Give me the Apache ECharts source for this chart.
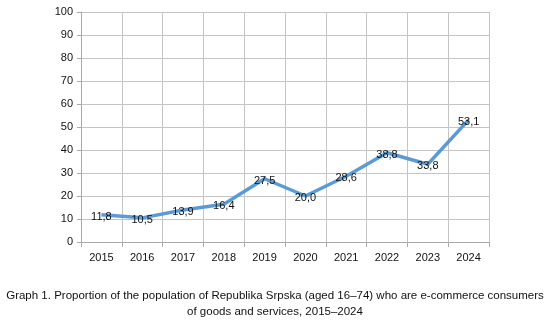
<!DOCTYPE html>
<html>
<head>
<meta charset="utf-8">
<script src="https://cdn.jsdelivr.net/npm/echarts@6/dist/echarts.min.js"></script>
<style>
  html, body { margin: 0; padding: 0; background: #fff; }
  #chart { width: 550px; height: 327px; }
</style>
</head>
<body>
<div id="chart"></div>
<script>
// Share of e-commerce consumers, Republika Srpska, by year
const years = ['2015', '2016', '2017', '2018', '2019', '2020', '2021', '2022', '2023', '2024'];
const shares = [11.8, 10.5, 13.9, 16.4, 27.5, 20.0, 28.6, 38.8, 33.8, 53.1];
const yTicks = { min: 0, max: 100, interval: 10 };
const caption = 'Graph 1. Proportion of the population of Republika Srpska (aged 16–74) who are e-commerce consumers\nof goods and services, 2015–2024';

const font = 'Liberation Sans, Arial, sans-serif';
const chart = echarts.init(document.getElementById('chart'), null, { renderer: 'canvas' });

chart.setOption({
  animation: false,
  backgroundColor: '#ffffff',
  graphic: [{
    type: 'text',
    x: 275,
    y: 288,
    style: {
      text: caption,
      align: 'center',
      verticalAlign: 'top',
      fontFamily: font,
      fontSize: 11.5,
      lineHeight: 16,
      fill: '#111'
    }
  }],
  grid: { left: 81, right: 61, top: 12, bottom: 85 },
  xAxis: {
    type: 'category',
    data: years,
    boundaryGap: true,
    axisLine: { show: true, lineStyle: { color: '#aaaaaa', width: 1 } },
    axisTick: { show: true, alignWithLabel: false, length: 5, lineStyle: { color: '#aaaaaa' } },
    axisLabel: { fontFamily: font, fontSize: 11, color: '#111', margin: 10 },
    splitLine: { show: true, lineStyle: { color: '#c4c4c4', width: 1 } }
  },
  yAxis: {
    type: 'value',
    min: yTicks.min,
    max: yTicks.max,
    interval: yTicks.interval,
    axisLine: { show: true, lineStyle: { color: '#aaaaaa', width: 1 } },
    axisTick: { show: true, length: 4, lineStyle: { color: '#aaaaaa' } },
    axisLabel: { fontFamily: font, fontSize: 11, color: '#111', margin: 8 },
    splitLine: { show: true, lineStyle: { color: '#c4c4c4', width: 1 } }
  },
  series: [{
    type: 'line',
    data: shares,
    symbol: 'circle',
    symbolSize: 1,
    showSymbol: true,
    itemStyle: { color: 'rgba(0,0,0,0)', borderWidth: 0 },
    lineStyle: { color: '#5b9bd5', width: 3.5 },
    label: {
      show: true,
      position: 'inside',
      offset: [0, 2],
      fontFamily: font,
      fontSize: 11,
      color: '#111',
      formatter: p => p.value.toFixed(1).replace('.', ',')
    }
  }]
});
</script>
</body>
</html>
